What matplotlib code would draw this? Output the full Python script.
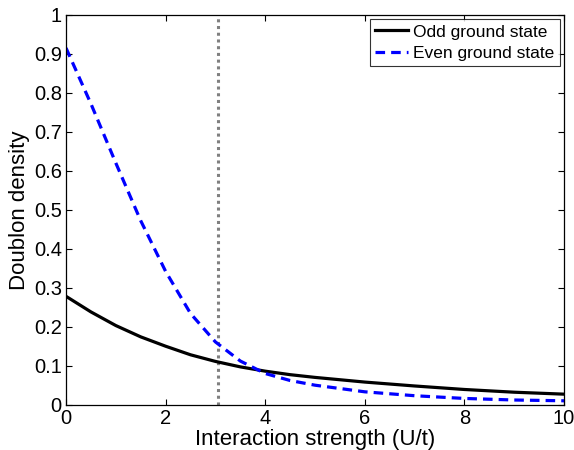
import numpy as np
import matplotlib
matplotlib.use('Agg')
import matplotlib.pyplot as plt

plt.rcParams['font.family'] = ['Liberation Sans', 'DejaVu Sans']

# 相互作用强度 U/t
u_values = [0, 0.5, 1, 1.5, 2, 2.5, 3, 3.5, 4, 4.5, 5, 6, 7, 8, 9, 10]
# 奇基态双占据密度
odd_density = [0.278, 0.238, 0.203, 0.174, 0.150, 0.128, 0.111, 0.097, 0.086,
               0.077, 0.070, 0.058, 0.048, 0.039, 0.032, 0.027]
# 偶基态双占据密度
even_density = [0.915, 0.772, 0.620, 0.472, 0.342, 0.234, 0.161, 0.112, 0.080,
                0.062, 0.050, 0.033, 0.023, 0.016, 0.012, 0.010]
# 竖直参考线位置
marker_u = 3.05

fig = plt.figure(figsize=(5.74, 4.5), dpi=100)
ax = fig.add_axes([0.115, 0.1007, 0.8676, 0.8663])

ax.axvline(marker_u, color='#808080', linestyle=(0, (1, 1.2)), linewidth=2.2)
ax.plot(u_values, odd_density, color='black', linewidth=2.3, label='Odd ground state',
        solid_joinstyle='round')
ax.plot(u_values, even_density, color='blue', linewidth=2.3, linestyle=(0, (3, 1.9)),
        label='Even ground state')

ax.set_xlim(0, 10)
ax.set_ylim(0, 1)
ax.set_xticks(np.arange(0, 11, 2))
ax.set_yticks(np.arange(0, 1.01, 0.1))
ax.set_yticklabels(['0', '0.1', '0.2', '0.3', '0.4', '0.5', '0.6', '0.7', '0.8', '0.9', '1'])
ax.tick_params(direction='in', top=True, right=True, length=4, width=0.8, labelsize=14.5,
               pad=3)
for s in ax.spines.values():
    s.set_linewidth(0.9)

ax.set_xlabel('Interaction strength (U/t)', fontsize=16, labelpad=1)
ax.set_ylabel('Doublon density', fontsize=16, labelpad=3)

leg = ax.legend(loc='upper right', fontsize=12.5, frameon=True, fancybox=False,
                edgecolor='black', borderaxespad=0.25, borderpad=0.3,
                handlelength=1.9, handletextpad=0.3, labelspacing=0.35)
leg.get_frame().set_linewidth(0.8)

plt.savefig('out.png', dpi=100)
